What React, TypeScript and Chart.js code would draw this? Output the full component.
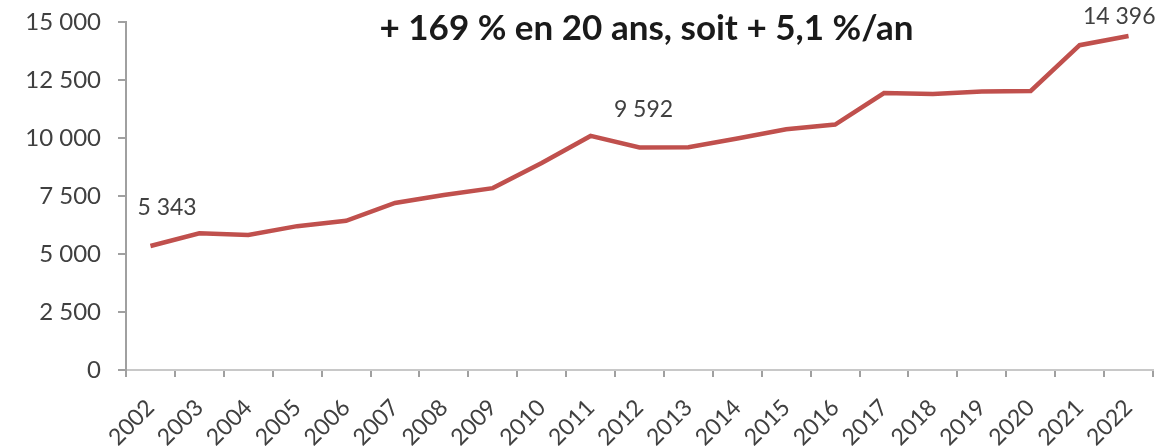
import React, { useEffect, useRef } from "react";
import { Chart, registerables } from "chart.js";

Chart.register(...registerables);

const years = [
  "2002", "2003", "2004", "2005", "2006", "2007", "2008", "2009", "2010", "2011",
  "2012", "2013", "2014", "2015", "2016", "2017", "2018", "2019", "2020", "2021", "2022",
];
const values = [
  5343, 5890, 5820, 6200, 6430, 7200, 7540, 7840, 8920, 10090,
  9592, 9600, 9980, 10380, 10580, 11940, 11900, 12000, 12030, 14000, 14396,
];
const yTicks = [0, 2500, 5000, 7500, 10000, 12500, 15000];
const labelledIndices = [0, 10, 20];
const titleText = "+ 169 % en 20 ans, soit + 5,1 %/an";

const fmt = (v: number) => String(v).replace(/\B(?=(\d{3})+(?!\d))/g, " ");

const FONT = "Lato, 'Open Sans', sans-serif";

const annotatePlugin = {
  id: "annotate",
  afterDatasetsDraw(chart: any) {
    const { ctx, chartArea, scales } = chart;
    const xs = scales.x;
    const ys = scales.y;
    ctx.save();
    // title
    ctx.font = `bold 35px ${FONT}`;
    ctx.fillStyle = "#1a1a1a";
    ctx.textAlign = "center";
    ctx.textBaseline = "alphabetic";
    ctx.fillText(titleText, (chartArea.left + chartArea.right) / 2 + 7, chartArea.top + 18);
    // data labels
    ctx.font = `23px ${FONT}`;
    ctx.fillStyle = "#404040";
    ctx.textBaseline = "middle";
    labelledIndices.forEach((i, k) => {
      const x = xs.getPixelForValue(i);
      const y = ys.getPixelForValue(values[i]);
      if (k === 0) {
        ctx.textAlign = "left";
        ctx.fillText(fmt(values[i]), x - 13, y - 38);
      } else if (k === labelledIndices.length - 1) {
        ctx.textAlign = "right";
        ctx.fillText(fmt(values[i]), x + 27, y - 19);
      } else {
        ctx.textAlign = "center";
        ctx.fillText(fmt(values[i]), x + 4, y - 38);
      }
    });
    ctx.restore();
  },
};

export default function App() {
  const ref = useRef<HTMLCanvasElement | null>(null);
  useEffect(() => {
    if (!ref.current) return;
    const chart = new Chart(ref.current, {
      type: "line",
      data: {
        labels: years,
        datasets: [
          {
            data: values,
            borderColor: "#C0504D",
            backgroundColor: "#C0504D",
            borderWidth: 4.5,
            pointRadius: 0,
            tension: 0,
          },
        ],
      },
      options: {
        animation: false,
        responsive: true,
        maintainAspectRatio: false,
        layout: { padding: { top: 22, right: 12, left: 0, bottom: 0 } },
        plugins: { legend: { display: false }, tooltip: { enabled: false }, title: { display: false } },
        scales: {
          x: {
            offset: true,
            grid: { offset: true, drawOnChartArea: false, drawTicks: true, tickLength: 7, color: "#A0A0A0", lineWidth: 2 },
            border: { color: "#C8C8C8", width: 2 },
            ticks: {
              autoSkip: false,
              minRotation: 45,
              maxRotation: 45,
              padding: 17,
              color: "#404040",
              font: { family: FONT, size: 23 },
            },
            afterFit: (scale: any) => {
              scale.height = 76;
              scale.paddingLeft = 0;
              scale.paddingRight = 0;
            },
          },
          y: {
            min: 0,
            max: 15000,
            afterBuildTicks: (scale: any) => {
              scale.ticks = yTicks.map((v) => ({ value: v }));
            },
            grid: { drawOnChartArea: false, drawTicks: true, tickLength: 8, color: "#A0A0A0", lineWidth: 2 },
            border: { color: "#A0A0A0", width: 2 },
            ticks: {
              padding: 17,
              color: "#404040",
              font: { family: FONT, size: 24 },
              callback: (v: any) => fmt(Number(v)),
            },
            afterFit: (scale: any) => {
              scale.width = 126;
              scale.paddingTop = 0;
              scale.paddingBottom = 0;
            },
          },
        },
      },
      plugins: [annotatePlugin],
    });
    return () => chart.destroy();
  }, []);
  return (
    <div style={{ position: "fixed", left: 0, top: 0, width: 1165, height: 446, background: "#fff" }}>
      <canvas ref={ref} />
    </div>
  );
}
